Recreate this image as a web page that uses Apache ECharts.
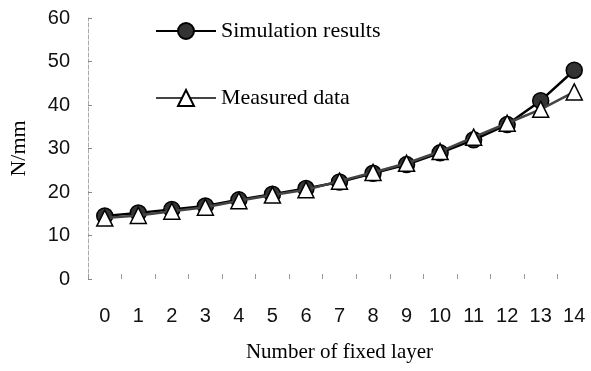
<!DOCTYPE html>
<html>
<head>
<meta charset="utf-8">
<script src="https://cdn.jsdelivr.net/npm/echarts@6/dist/echarts.min.js"></script>
<style>html,body{margin:0;padding:0;background:#fff;}#c{width:591px;height:371px;}</style>
</head>
<body>
<div id="c"></div>
<script>
var categories = ['0','1','2','3','4','5','6','7','8','9','10','11','12','13','14'];
var simulation = [14.5, 15.2, 16, 16.8, 18.2, 19.5, 20.8, 22.3, 24.3, 26.3, 29, 32, 35.5, 41, 48];
var measured = [14, 14.6, 15.6, 16.5, 18, 19.3, 20.5, 22.5, 24.5, 26.6, 29.3, 32.6, 35.8, 39, 43];
var yTicks = [0, 10, 20, 30, 40, 50, 60];

var chart = echarts.init(document.getElementById('c'), null, {renderer: 'canvas'});
chart.setOption({
  animation: false,
  backgroundColor: '#fff',
  grid: {left: 86, right: 0, top: 18, bottom: 92},
  legend: {
    orient: 'vertical', left: 150, top: 15, itemGap: 45,
    itemWidth: 60, itemHeight: 20,
    textStyle: {fontFamily: 'Liberation Serif', fontSize: 22, color: '#000'},
    data: ['Simulation results', 'Measured data']
  },
  xAxis: {
    type: 'category', data: categories, boundaryGap: true,
    axisLine: {show: false},
    axisTick: {show: true, inside: true, length: 5, lineStyle: {color: '#999'}},
    axisLabel: {margin: 27, fontFamily: 'Liberation Sans', fontSize: 20, color: '#111'},
    name: 'Number of fixed layer', nameLocation: 'middle', nameGap: 63,
    nameTextStyle: {fontFamily: 'Liberation Serif', fontSize: 21, color: '#000'}
  },
  yAxis: {
    type: 'value', min: 0, max: 60, interval: 10,
    axisLine: {show: true, lineStyle: {color: '#aaa', type: 'dashed', width: 1}},
    axisTick: {show: true, inside: true, length: 4, lineStyle: {color: '#888'}},
    splitLine: {show: false},
    axisLabel: {margin: 18, fontFamily: 'Liberation Sans', fontSize: 20, color: '#111',
      formatter: function(v){ return yTicks.indexOf(v) >= 0 ? String(v) : ''; }},
    name: 'N/mm', nameLocation: 'middle', nameGap: 58,
    nameTextStyle: {fontFamily: 'Liberation Serif', fontSize: 22, color: '#000'}
  },
  series: [
    {
      name: 'Simulation results', type: 'line', data: simulation,
      symbol: 'circle', symbolSize: 16,
      lineStyle: {color: '#000', width: 2.5},
      itemStyle: {color: '#333', borderColor: '#000', borderWidth: 1.5},
      z: 2
    },
    {
      name: 'Measured data', type: 'line', data: measured,
      symbol: 'triangle', symbolSize: 16,
      lineStyle: {color: '#444', width: 2.5},
      itemStyle: {color: '#fff', borderColor: '#000', borderWidth: 1.5},
      z: 3
    }
  ]
});
</script>
</body>
</html>
